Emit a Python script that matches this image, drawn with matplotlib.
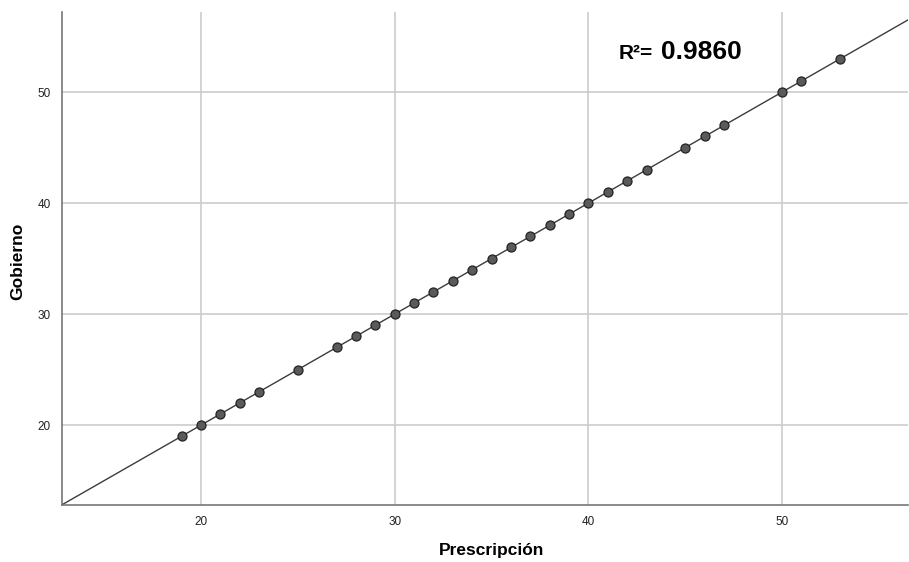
import matplotlib.pyplot as plt
import numpy as np

plt.rcParams['font.family'] = ['Liberation Sans', 'DejaVu Sans']

# observed pairs (Prescripción, Gobierno)
prescripcion = [19, 20, 21, 22, 23, 25, 27, 28, 29, 30, 31, 32, 33, 34, 35, 36, 37,
                38, 39, 40, 41, 42, 43, 45, 46, 47, 50, 51, 53]
gobierno = [19, 20, 21, 22, 23, 25, 27, 28, 29, 30, 31, 32, 33, 34, 35, 36, 37,
            38, 39, 40, 41, 42, 43, 45, 46, 47, 50, 51, 53]
r2_label = '0.9860'
x_ticks = [20, 30, 40, 50]
y_ticks = [20, 30, 40, 50]

fig = plt.figure(figsize=(9.09, 5.62), dpi=100)
ax = fig.add_axes([0.0682, 0.1014, 0.9307, 0.877])

ax.set_xlim(12.82, 56.5)
ax.set_ylim(12.8, 57.2)
ax.set_xticks(x_ticks)
ax.set_yticks(y_ticks)
ax.grid(True, color='#cccccc', linewidth=1.2)
ax.set_axisbelow(True)

# fit line
slope, intercept = np.polyfit(prescripcion, gobierno, 1)
ax.axline((20, slope * 20 + intercept), slope=slope, color='#3c3c3c', linewidth=1, zorder=2)

ax.plot(prescripcion, gobierno, marker='o', linestyle='', markersize=6.5,
        markerfacecolor='#5a5a5a', markeredgecolor='#222222', markeredgewidth=0.9, zorder=3)

for s in ['top', 'right']:
    ax.spines[s].set_visible(False)
for s in ['left', 'bottom']:
    ax.spines[s].set_color('#777777')
    ax.spines[s].set_linewidth(1.2)

ax.tick_params(length=0, labelsize=8.5, pad=8, colors='#222222')

fig.text(492 / 909, 1 - 551 / 562, 'Prescripción', fontsize=12.5, fontweight='bold',
         ha='center', va='center')
fig.text(18 / 909, 1 - 261 / 562, 'Gobierno', fontsize=12.5, fontweight='bold',
         ha='center', va='center', rotation=90)

ax.text(41.58, 52.97, 'R²=', fontsize=15, fontweight='bold', va='baseline', ha='left')
ax.text(43.74, 52.97, r2_label, fontsize=19, fontweight='bold', va='baseline', ha='left')

fig.savefig('out.png', dpi=100)
